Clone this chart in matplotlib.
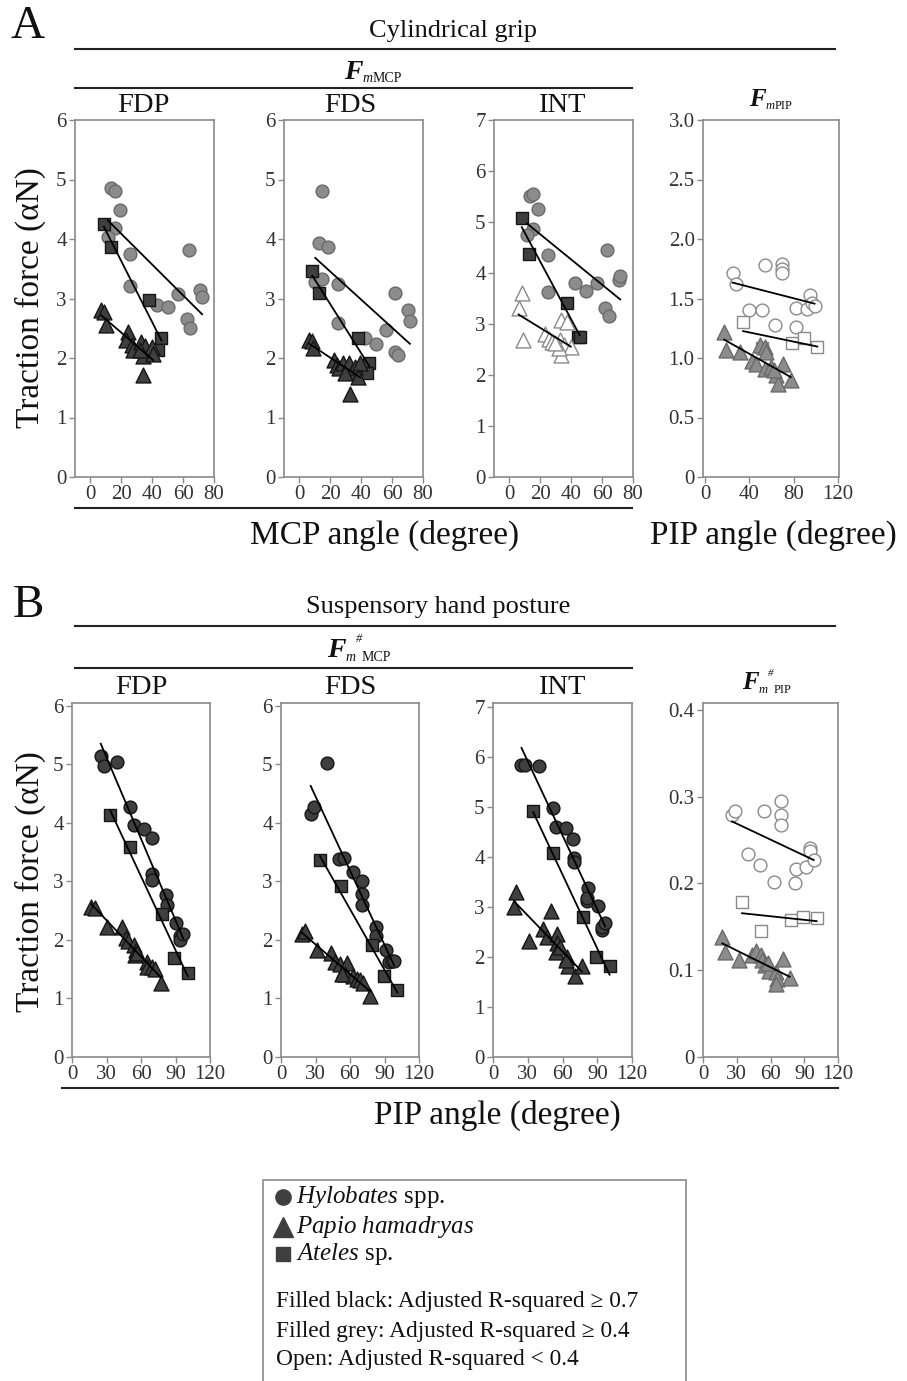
import numpy as np
import matplotlib
matplotlib.use('Agg')
import matplotlib.pyplot as plt
from matplotlib.lines import Line2D
from matplotlib.patches import Rectangle

plt.rcParams['font.family'] = ['Liberation Serif', 'DejaVu Serif']
plt.rcParams['mathtext.fontset'] = 'custom'
plt.rcParams['mathtext.rm'] = 'Liberation Serif'
plt.rcParams['mathtext.it'] = 'Liberation Serif:italic'
plt.rcParams['mathtext.bf'] = 'Liberation Serif:bold'

# ---------------- data ----------------
# A: cylindrical grip, F_mMCP vs MCP angle
a_fdp_circ_x = [13, 15.7, 19, 15.7, 11.3, 25.5, 25.5, 43, 50, 57, 63.6, 62.5, 64.7, 71.2, 72.3]
a_fdp_circ_y = [4.85, 4.80, 4.49, 4.18, 4.03, 3.75, 3.21, 2.89, 2.86, 3.08, 3.81, 2.66, 2.51, 3.14, 3.03]
a_fdp_sq_x = [8.7, 13.5, 38, 46, 44]
a_fdp_sq_y = [4.25, 3.86, 2.97, 2.34, 2.14]
a_fdp_tri_x = [7, 9, 10, 24.4, 23.3, 26.6, 27.7, 33, 35, 34, 39.6, 40.7, 34, 32]
a_fdp_tri_y = [2.80, 2.78, 2.55, 2.44, 2.30, 2.22, 2.13, 2.27, 2.20, 2.03, 2.18, 2.07, 1.71, 2.13]

a_fds_circ_x = [14.6, 12.4, 18.5, 10.2, 14.8, 25, 25, 42.5, 49.7, 56.2, 62, 62, 63.6, 70.3, 71.5]
a_fds_circ_y = [4.81, 3.94, 3.86, 3.28, 3.32, 3.24, 2.59, 2.33, 2.24, 2.47, 3.10, 2.10, 2.05, 2.80, 2.62]
a_fds_sq_x = [8.3, 12.4, 38.1, 45.3, 43.6]
a_fds_sq_y = [3.46, 3.10, 2.34, 1.91, 1.74]
a_fds_tri_x = [6.1, 8.3, 8.7, 22.4, 24, 25.7, 28.3, 32.2, 33.8, 35.9, 39.2, 38.1, 32.7, 29.4]
a_fds_tri_y = [2.31, 2.29, 2.16, 1.96, 1.88, 1.84, 1.91, 1.91, 1.77, 1.85, 1.91, 1.68, 1.40, 1.74]

a_int_circ_x = [13.1, 15, 18.3, 15, 11.3, 25.1, 25.1, 42.3, 49.5, 56.6, 62.9, 61.9, 64.3, 70.8, 71.7]
a_int_circ_y = [5.51, 5.54, 5.25, 4.87, 4.75, 4.35, 3.63, 3.81, 3.64, 3.81, 4.46, 3.32, 3.15, 3.86, 3.94]
a_int_sq_x = [8, 12.9, 37.5, 44.4, 45.5]
a_int_sq_y = [5.07, 4.38, 3.42, 2.75, 2.75]
a_int_tri_x = [8, 5.9, 8.7, 23.3, 25.5, 27.7, 32.7, 35.3, 33.1, 37.5, 39.7, 33.1, 32, 29.8]
a_int_tri_y = [3.61, 3.32, 2.69, 2.80, 2.71, 2.65, 2.68, 2.58, 3.07, 3.03, 2.54, 2.39, 2.52, 2.62]

# A: F_mPIP vs PIP angle
a_pip_circ_x = [24.7, 27.7, 39.7, 51.1, 54.1, 62.9, 69.8, 69.8, 69.8, 82.4, 81.8, 91.7, 94.7, 96.8, 98.9]
a_pip_circ_y = [1.716, 1.62, 1.40, 1.40, 1.78, 1.276, 1.794, 1.744, 1.716, 1.42, 1.26, 1.41, 1.53, 1.46, 1.44]
a_pip_sq_x = [34.3, 51.7, 78.2, 89.3, 101.4]
a_pip_sq_y = [1.30, 1.085, 1.13, 1.17, 1.09]
a_pip_tri_x = [17.1, 18.6, 31.3, 42.1, 45.7, 49.6, 54.1, 54.7, 54.1, 59.2, 63.7, 66.2, 70.4, 77.3, 62.2]
a_pip_tri_y = [1.22, 1.07, 1.05, 0.976, 0.95, 1.11, 1.09, 1.05, 0.91, 0.925, 0.855, 0.785, 0.953, 0.813, 0.897]

# B: suspensory hand posture, vs PIP angle
b_fdp_circ_x = [25, 27.9, 39.5, 50.3, 53.8, 62.8, 69.2, 69.8, 69.8, 81.4, 82.3, 90.4, 93.9, 93.9, 96.8]
b_fdp_circ_y = [5.14, 4.98, 5.04, 4.27, 3.97, 3.89, 3.74, 3.13, 3.02, 2.77, 2.60, 2.29, 2.06, 2.00, 2.10]
b_fdp_sq_x = [33.4, 50.3, 77.9, 89, 100.6]
b_fdp_sq_y = [4.13, 3.59, 2.44, 1.70, 1.43]
b_fdp_tri_x = [16.9, 19.8, 30.5, 43.9, 46.8, 48.8, 54.1, 55.5, 54.7, 64.8, 65.4, 69.2, 72.1, 77.3, 56.1]
b_fdp_tri_y = [2.57, 2.54, 2.22, 2.23, 2.03, 1.99, 1.91, 1.83, 1.74, 1.63, 1.54, 1.54, 1.51, 1.26, 1.77]

b_fds_circ_x = [40.3, 25.8, 28.7, 50.7, 54.8, 62.9, 70.1, 70.1, 70.1, 82.3, 82.6, 91.3, 93.9, 96.2, 98.3]
b_fds_circ_y = [5.03, 4.15, 4.27, 3.38, 3.40, 3.16, 3.01, 2.78, 2.60, 2.22, 2.06, 1.83, 1.62, 1.64, 1.64]
b_fds_sq_x = [33.9, 51.9, 78.8, 89.6, 101.2]
b_fds_sq_y = [3.36, 2.92, 1.91, 1.38, 1.15]
b_fds_tri_x = [18, 20.9, 31, 43.5, 47, 51.3, 55, 57.1, 55.7, 62.9, 65.8, 68.7, 71.6, 77.4, 52.8]
b_fds_tri_y = [2.10, 2.15, 1.83, 1.77, 1.62, 1.59, 1.48, 1.60, 1.41, 1.38, 1.34, 1.31, 1.26, 1.05, 1.42]

b_int_circ_x = [24.6, 27.5, 39.9, 51.4, 54.3, 63, 69.4, 69.9, 69.9, 82.4, 80.9, 81.5, 91, 94, 94.5, 96.8]
b_int_circ_y = [5.84, 5.83, 5.81, 4.98, 4.60, 4.58, 4.36, 3.98, 3.90, 3.38, 3.11, 3.17, 3.02, 2.53, 2.59, 2.67]
b_int_sq_x = [34.7, 51.4, 78, 88.7, 100.6]
b_int_sq_y = [4.92, 4.07, 2.79, 1.99, 1.82]
b_int_tri_x = [20.2, 18.2, 31.2, 49.7, 43.4, 46.8, 54.9, 55.5, 54.3, 57.8, 64.2, 65, 70.8, 76.6, 63]
b_int_tri_y = [3.30, 3.00, 2.32, 2.92, 2.55, 2.40, 2.46, 2.27, 2.10, 2.19, 1.99, 1.82, 1.61, 1.82, 1.94]

b_pip_circ_x = [25.8, 28.1, 40, 54.2, 51, 63.1, 69.6, 69.6, 69.6, 82.1, 82.4, 91.3, 94.8, 94.8, 98.4]
b_pip_circ_y = [0.279, 0.284, 0.2335, 0.284, 0.221, 0.202, 0.2955, 0.279, 0.267, 0.201, 0.217, 0.219, 0.241, 0.238, 0.227]
b_pip_sq_x = [34.7, 51.9, 78.5, 89.2, 101]
b_pip_sq_y = [0.179, 0.1455, 0.158, 0.161, 0.160]
b_pip_tri_x = [17.2, 19.9, 31.7, 43.9, 47.4, 51.3, 52.4, 55.4, 58.7, 64.6, 65.8, 65.2, 71.1, 77, 57.8]
b_pip_tri_y = [0.1386, 0.121, 0.112, 0.117, 0.1225, 0.117, 0.112, 0.106, 0.0995, 0.098, 0.090, 0.084, 0.113, 0.091, 0.108]

mcp_xticks = [0, 20, 40, 60, 80]
pipA_xticks = [0, 40, 80, 120]
pipB_xticks = [0, 30, 60, 90, 120]
y6_ticks = [0, 1, 2, 3, 4, 5, 6]
y7_ticks = [0, 1, 2, 3, 4, 5, 6, 7]
pipA_yticks = [0, 0.5, 1.0, 1.5, 2.0, 2.5, 3.0]
pipA_ylabels = ['0', '0.5', '1.0', '1.5', '2.0', '2.5', '3.0']
pipB_yticks = [0, 0.1, 0.2, 0.3, 0.4]
pipB_ylabels = ['0', '0.1', '0.2', '0.3', '0.4']

# ---------------- styles ----------------
STY = {
    'dark': dict(facecolor='#3f3f3f', edgecolor='#151515'),
    'grey': dict(facecolor='#8c8c8c', edgecolor='#6a6a6a'),
    'open': dict(facecolor='white', edgecolor='#8a8a8a'),
}
MK = {'c': ('o', 85), 't': ('^', 115), 's': ('s', 64)}

W, H = 907, 1381
fig = plt.figure(figsize=(W / 100, H / 100), dpi=100)
renderer = fig.canvas.get_renderer()


def fx(x):
    return x / W


def fy(y):
    return 1 - y / H


def add_ax(left, top, right, bottom):
    return fig.add_axes([fx(left), fy(bottom), (right - left) / W, (bottom - top) / H])


def style_ax(ax, xlim, ylim, xt, yt, ytl=None):
    ax.set_xlim(*xlim)
    ax.set_ylim(*ylim)
    ax.set_xticks(xt)
    ax.set_yticks(yt)
    if ytl is not None:
        ax.set_yticklabels(ytl)
    for s in ax.spines.values():
        s.set_color('#8a8a8a')
        s.set_linewidth(1.2)
    ax.tick_params(direction='out', length=4, width=1, color='#8a8a8a',
                   labelsize=15, labelcolor='#333333', pad=2)


def draw(ax, series):
    for x, y, kind, sty in series:
        m, s = MK[kind]
        ax.scatter(np.asarray(x, float), np.asarray(y, float), marker=m, s=s,
                   linewidths=1.0, zorder=3, **STY[sty])
    for x, y, kind, sty in series:
        x = np.asarray(x, float)
        y = np.asarray(y, float)
        k, b = np.polyfit(x, y, 1)
        xs = np.array([x.min(), x.max()])
        ax.plot(xs, k * xs + b, color='black', lw=1.3, zorder=4)


# Row A
topA, botA = 120, 477
ax = add_ax(75, topA, 214, botA)
draw(ax, [(a_fdp_circ_x, a_fdp_circ_y, 'c', 'grey'), (a_fdp_sq_x, a_fdp_sq_y, 's', 'dark'),
          (a_fdp_tri_x, a_fdp_tri_y, 't', 'dark')])
style_ax(ax, (-10, 80), (0, 6), mcp_xticks, y6_ticks)

ax = add_ax(284, topA, 423, botA)
draw(ax, [(a_fds_circ_x, a_fds_circ_y, 'c', 'grey'), (a_fds_sq_x, a_fds_sq_y, 's', 'dark'),
          (a_fds_tri_x, a_fds_tri_y, 't', 'dark')])
style_ax(ax, (-10, 80), (0, 6), mcp_xticks, y6_ticks)

ax = add_ax(494, topA, 633, botA)
draw(ax, [(a_int_circ_x, a_int_circ_y, 'c', 'grey'), (a_int_sq_x, a_int_sq_y, 's', 'dark'),
          (a_int_tri_x, a_int_tri_y, 't', 'open')])
style_ax(ax, (-10, 80), (0, 7), mcp_xticks, y7_ticks)

ax = add_ax(703, topA, 839, botA)
draw(ax, [(a_pip_circ_x, a_pip_circ_y, 'c', 'open'), (a_pip_sq_x, a_pip_sq_y, 's', 'open'),
          (a_pip_tri_x, a_pip_tri_y, 't', 'grey')])
style_ax(ax, (-2, 121), (0, 3.0), pipA_xticks, pipA_yticks, pipA_ylabels)

# Row B
topB, botB = 703, 1057
ax = add_ax(72, topB, 210, botB)
draw(ax, [(b_fdp_circ_x, b_fdp_circ_y, 'c', 'dark'), (b_fdp_sq_x, b_fdp_sq_y, 's', 'dark'),
          (b_fdp_tri_x, b_fdp_tri_y, 't', 'dark')])
style_ax(ax, (0, 120), (0, 6.05), pipB_xticks, y6_ticks)

ax = add_ax(281, topB, 419, botB)
draw(ax, [(b_fds_circ_x, b_fds_circ_y, 'c', 'dark'), (b_fds_sq_x, b_fds_sq_y, 's', 'dark'),
          (b_fds_tri_x, b_fds_tri_y, 't', 'dark')])
style_ax(ax, (0, 120), (0, 6.05), pipB_xticks, y6_ticks)

ax = add_ax(493, topB, 632, botB)
draw(ax, [(b_int_circ_x, b_int_circ_y, 'c', 'dark'), (b_int_sq_x, b_int_sq_y, 's', 'dark'),
          (b_int_tri_x, b_int_tri_y, 't', 'dark')])
style_ax(ax, (0, 120), (0, 7.07), pipB_xticks, y7_ticks)

ax = add_ax(703, topB, 838, botB)
draw(ax, [(b_pip_circ_x, b_pip_circ_y, 'c', 'open'), (b_pip_sq_x, b_pip_sq_y, 's', 'open'),
          (b_pip_tri_x, b_pip_tri_y, 't', 'grey')])
style_ax(ax, (0, 120), (0, 0.408), pipB_xticks, pipB_yticks, pipB_ylabels)


# ---------------- annotations ----------------
def txt(x, y, s, size, **kw):
    fig.text(fx(x), fy(y), s, fontsize=size, ha=kw.pop('ha', 'center'),
             va=kw.pop('va', 'center'), color=kw.pop('color', '#111111'), **kw)


def hline(x0, x1, y, lw=1.5):
    fig.add_artist(Line2D([fx(x0), fx(x1)], [fy(y), fy(y)], color='#222222', lw=lw))


def seq(x, parts):
    """Place text pieces one after another; parts = (text, size, style, weight, baseline_y)."""
    cx = x
    for s, size, style, weight, by in parts:
        t = fig.text(fx(cx), fy(by), s, fontsize=size, style=style, weight=weight,
                     ha='left', va='baseline', color='#111111')
        cx += t.get_window_extent(renderer).width


txt(28, 27, 'A', 34)
txt(453, 31, 'Cylindrical grip', 19)
hline(75, 835, 49)
seq(344, [('F', 20, 'italic', 'bold', 79), ('m', 10, 'italic', 'normal', 82), ('MCP', 10, 'normal', 'normal', 82)])
hline(75, 632, 88)
txt(143, 106, 'FDP', 20.5)
txt(350, 106, 'FDS', 20.5)
txt(562, 106, 'INT', 20.5)
seq(749, [('F', 18, 'italic', 'bold', 106), ('m', 9, 'italic', 'normal', 109), ('PIP', 9, 'normal', 'normal', 109)])
txt(30, 298, 'Traction force (αN)', 24, rotation=90)
hline(75, 632, 508)
txt(385, 535, 'MCP angle (degree)', 24)
txt(773, 535, 'PIP angle (degree)', 24)

txt(28, 606, 'B', 34)
txt(438, 607, 'Suspensory hand posture', 19)
hline(75, 835, 626)
seq(327, [('F', 20, 'italic', 'bold', 657), ('m', 10, 'italic', 'normal', 661),
          ('#', 9, 'italic', 'normal', 642), ('MCP', 10, 'normal', 'normal', 661)])
hline(75, 632, 668)
txt(141, 688, 'FDP', 20.5)
txt(350, 688, 'FDS', 20.5)
txt(562, 688, 'INT', 20.5)
seq(742, [('F', 18, 'italic', 'bold', 689), ('m', 9, 'italic', 'normal', 693),
          ('#', 8, 'italic', 'normal', 676), ('PIP', 9, 'normal', 'normal', 693)])
txt(30, 882, 'Traction force (αN)', 24, rotation=90)
hline(62, 838, 1088)
txt(497, 1115, 'PIP angle (degree)', 24)

# ---------------- legend box ----------------
fig.add_artist(Rectangle((fx(263), fy(1395)), (686 - 263) / W, (1395 - 1180) / H,
                         transform=fig.transFigure, facecolor='none',
                         edgecolor='#8a8a8a', lw=1.2))
leg_labels = [r'$\mathit{Hylobates}$ spp.', r'$\mathit{Papio\ hamadryas}$', r'$\mathit{Ateles}$ sp.']
leg_kinds = ['c', 't', 's']
leg_msize = [11, 14, 10]
leg_y = [1197, 1227, 1254]
for lab, k, ms, yy in zip(leg_labels, leg_kinds, leg_msize, leg_y):
    m, s = MK[k]
    fig.add_artist(Line2D([fx(283)], [fy(yy)], marker=m, markersize=ms,
                          markerfacecolor='#3f3f3f', markeredgecolor='#3f3f3f', linestyle='none'))
    txt(296, yy, lab, 18, ha='left')
leg_notes = ['Filled black: Adjusted R-squared ≥ 0.7',
             'Filled grey: Adjusted R-squared ≥ 0.4',
             'Open: Adjusted R-squared < 0.4']
for i, t in enumerate(leg_notes):
    txt(276, 1302 + 29 * i, t, 16.8, ha='left')

fig.savefig('out.png', dpi=100)
